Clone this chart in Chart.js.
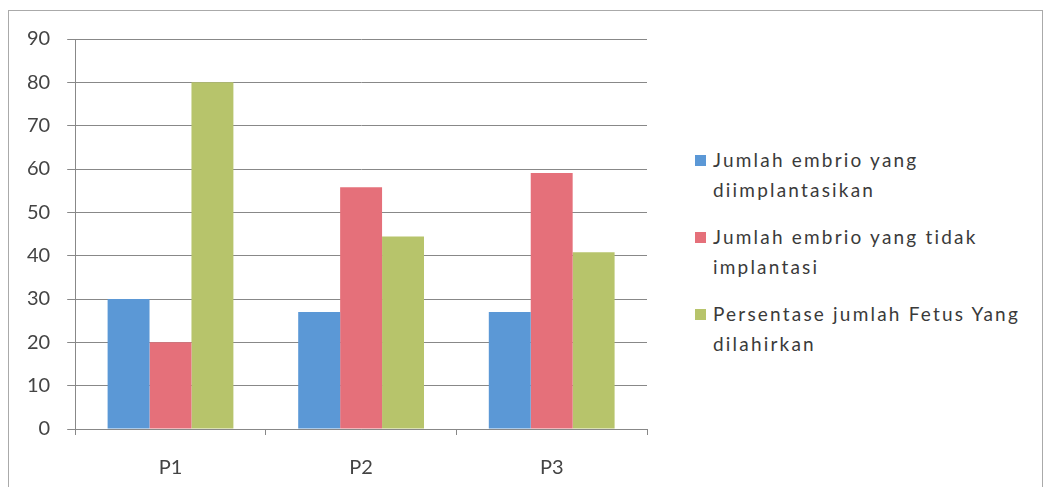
<!DOCTYPE html>
<html>
<head>
<meta charset="utf-8">
<script src="https://cdn.jsdelivr.net/npm/chart.js@4.4.0/dist/chart.umd.min.js"></script>
<style>
body{margin:0;background:#fff;width:1049px;height:487px;overflow:hidden;font-family:Lato,"Open Sans",sans-serif;}
#frame{position:absolute;left:8px;top:10px;width:1035px;height:490px;border:1px solid #aaa;box-sizing:border-box;}
#wrap{position:absolute;left:8px;top:10px;width:670px;height:491px;}
#legend{position:absolute;left:695px;top:145px;color:#3a3a3a;font-size:19px;letter-spacing:2.2px;line-height:30px;}
.item{position:relative;padding-left:18px;margin-bottom:17px;}
.box{position:absolute;left:0;top:10px;width:11px;height:11px;}
</style>
</head>
<body>
<div id="frame"></div>
<div id="wrap"><canvas id="chart"></canvas></div>
<div id="legend"></div>
<script>
const categories=['P1','P2','P3'];
const seriesNames=[
    ['Jumlah embrio yang','diimplantasikan'],
    ['Jumlah embrio yang tidak','implantasi'],
    ['Persentase jumlah Fetus Yang','dilahirkan']
];
const implanted=[30,27,27];
const notImplanted=[20,55.8,59.1];
const fetusPercent=[80,44.4,40.8];
const colors=['#5b98d6','#e5707a','#b7c46b'];

const values=[implanted,notImplanted,fetusPercent];
const datasets=values.map((v,i)=>({
    label:seriesNames[i].join(' '),
    data:v,
    backgroundColor:colors[i],
    categoryPercentage:0.66,
    barPercentage:1
}));

const ctx=document.getElementById('chart').getContext('2d');
new Chart(ctx,{
    type:'bar',
    data:{labels:categories,datasets:datasets},
    options:{
        responsive:true,
        maintainAspectRatio:false,
        animation:false,
        layout:{padding:{top:28,right:31,left:2,bottom:0}},
        plugins:{legend:{display:false},tooltip:{enabled:false}},
        scales:{
            x:{
                offset:true,
                grid:{offset:true,drawOnChartArea:false,drawTicks:true,tickLength:6,color:'#888'},
                border:{color:'#888'},
                ticks:{color:'#444',font:{family:'Lato',size:20},padding:21}
            },
            y:{
                min:0,max:90,
                ticks:{stepSize:10,color:'#444',font:{family:'Lato',size:20},padding:17},
                grid:{color:'#888',tickLength:8},
                border:{color:'#888'}
            }
        }
    }
});

// legend with wrapped labels like the original
const legend=document.getElementById('legend');
seriesNames.forEach((lines,i)=>{
    const item=document.createElement('div');
    item.className='item';
    item.innerHTML='<span class="box" style="background:'+colors[i]+'"></span>'+lines.join('<br>');
    legend.appendChild(item);
});
</script>
</body>
</html>
